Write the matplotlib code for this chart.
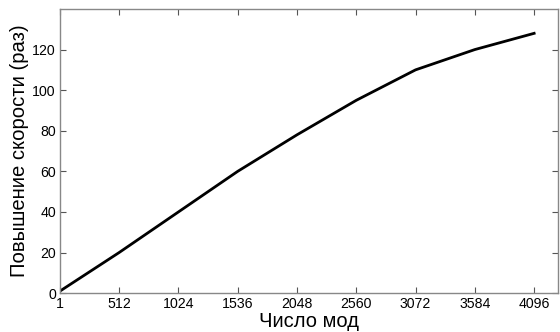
import numpy as np
import matplotlib.pyplot as plt

plt.rcParams['font.family'] = ['Liberation Sans', 'DejaVu Sans']

modes = [1, 512, 1024, 1536, 2048, 2560, 3072, 3584, 4096]
speedup = [1, 20, 40, 60, 78, 95, 110, 120, 128]
xticks = [1, 512, 1024, 1536, 2048, 2560, 3072, 3584, 4096]
yticks = [0, 20, 40, 60, 80, 100, 120]

fig = plt.figure(figsize=(5.6, 3.32), dpi=100)
ax = fig.add_axes([0.107, 0.117, 0.889, 0.856])

ax.plot(modes, speedup, color="black", linewidth=2)

ax.set_xlim(1, 4300)
ax.set_ylim(0, 140)
ax.set_xticks(xticks)
ax.set_yticks(yticks)
ax.tick_params(direction="in", top=True, right=True, labelsize=10.2,
               length=4, color="#555555", pad=3)
for s in ax.spines.values():
    s.set_color("#888888")
    s.set_linewidth(1)

ax.set_xlabel("Число мод", fontsize=14.5, labelpad=0.5)
ax.set_ylabel("Повышение скорости (раз)", fontsize=14.6, labelpad=2)

fig.savefig("out.png", dpi=100)
